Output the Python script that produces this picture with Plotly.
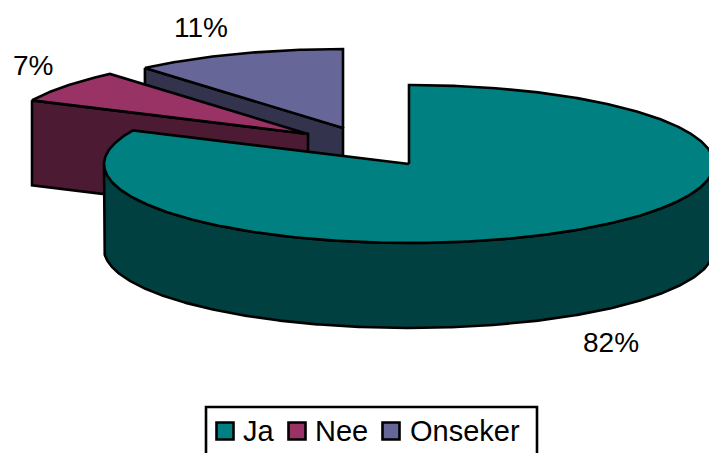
import math
import plotly.graph_objects as go

# ── Data ──────────────────────────────────────────────────────────────────────

LABELS = ["Ja", "Nee", "Onseker"]
SHARES = [82, 6.75, 11.25]   # labels show them rounded
TOP_COLORS = ["#008080", "#993366", "#666699"]
SIDE_COLORS = ["#004040", "#4d1a33", "#33334d"]

# pie centre of each slice in pixels (exploded slices are moved up and left)
APEX = [(409, 164), (308, 134), (343, 128)]
LABEL_POS = [(611, 342), (33, 65), (201, 27)]

# legend row, drawn by hand: plotly caps legend swatches and fixes their spacing
SWATCH_X = [225, 297, 391]
LEGEND_TEXT_X = [241, 313, 408]
LEGEND_Y = 431

RX, RY, DEPTH = 305, 79, 85
FONT = dict(family="Liberation Sans, Arial, sans-serif", size=28, color="black")
LEGEND_FONT = dict(family="Liberation Sans, Arial, sans-serif", size=29, color="black")


def rim(apex, a0, a1, drop=0):
    """Points on the ellipse, angles in degrees clockwise from 12 o'clock."""
    n = max(2, int(abs(a1 - a0)) * 2)
    pts = []
    for i in range(n + 1):
        a = math.radians(a0 + (a1 - a0) * i / n)
        pts.append((apex[0] + RX * math.sin(a), apex[1] - RY * math.cos(a) + drop))
    return pts


def poly(pts, color):
    xs = [p[0] for p in pts] + [pts[0][0]]
    ys = [p[1] for p in pts] + [pts[0][1]]
    return go.Scatter(
        x=xs, y=ys, mode="lines", fill="toself", fillcolor=color,
        line=dict(color="black", width=2.6), hoverinfo="skip", showlegend=False,
    )


# start / end angle of each slice
angles = []
start = 0
for share in SHARES:
    angles.append((start, start + share * 3.6))
    start += share * 3.6

fig = go.Figure()

# drawn back to front: Onseker, Nee, Ja
for i in (2, 1, 0):
    apex = APEX[i]
    a0, a1 = angles[i]
    if i == 0:
        # outer wall, front half of the rim
        wall = rim(apex, 90, 270) + rim(apex, 270, 90, DEPTH)
        fig.add_trace(poly(wall, SIDE_COLORS[i]))
    else:
        # cut face looking to the front
        p = rim(apex, a0, a0)[0]
        face = [p, apex, (apex[0], apex[1] + DEPTH), (p[0], p[1] + DEPTH)]
        fig.add_trace(poly(face, SIDE_COLORS[i]))
    fig.add_trace(poly([apex] + rim(apex, a0, a1), TOP_COLORS[i]))

# legend
fig.add_shape(type="rect", x0=206, y0=407, x1=537, y1=480, layer="below",
              line=dict(color="black", width=2.6), fillcolor="white")
fig.add_trace(go.Scatter(
    x=SWATCH_X, y=[LEGEND_Y] * 3, mode="markers", showlegend=False, hoverinfo="skip",
    marker=dict(symbol="square", size=17, color=TOP_COLORS,
                line=dict(color="black", width=2.6)),
))
for label, x in zip(LABELS, LEGEND_TEXT_X):
    fig.add_annotation(x=x, y=LEGEND_Y, text=label, showarrow=False,
                       xanchor="left", font=LEGEND_FONT)

for share, pos in zip(SHARES, LABEL_POS):
    fig.add_annotation(x=pos[0], y=pos[1], text=f"{share:.0f}%", showarrow=False, font=FONT)

fig.update_layout(
    width=709, height=453,
    margin=dict(l=0, r=0, t=0, b=0, autoexpand=False),
    paper_bgcolor="white", plot_bgcolor="white",
    xaxis=dict(range=[0, 709], visible=False, fixedrange=True),
    yaxis=dict(range=[453, 0], visible=False, fixedrange=True),
    showlegend=False,
    hovermode=False,
)

fig.write_html(
    "out.html",
    config=dict(displayModeBar=False),
    post_script="document.body.style.margin = '0'; document.body.style.overflow = 'hidden';",
)
